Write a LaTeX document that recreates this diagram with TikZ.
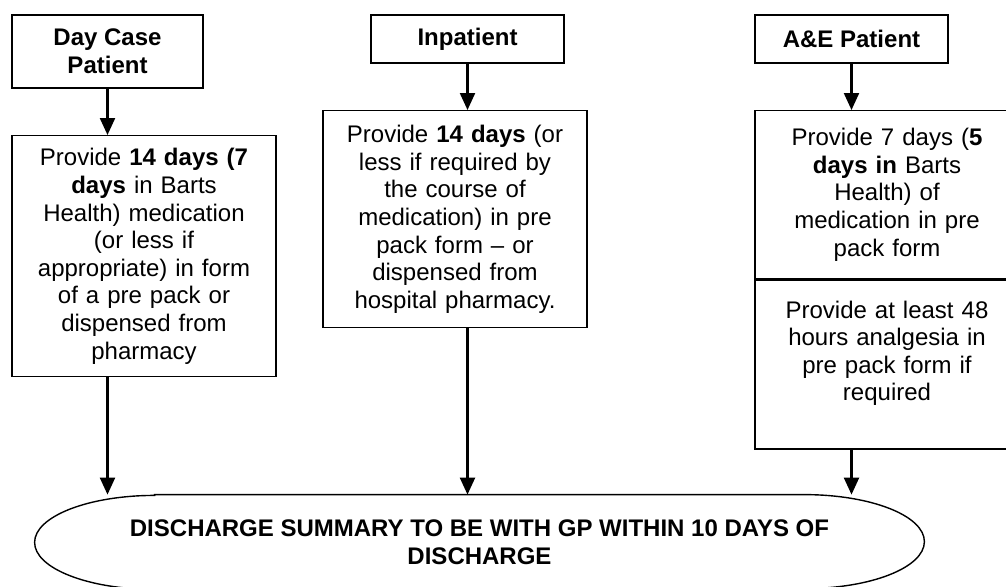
\documentclass[tikz,border=0pt]{standalone}
\usepackage{fontspec}
\setmainfont{Liberation Sans}
\usepackage{tikz}
\usetikzlibrary{calc}
\usetikzlibrary{arrows.meta}

\tikzset{
	boxline/.style = {line width=.7pt},
	headbox/.style = {draw, boxline, align=center, inner sep=0pt, font=\fontsize{12pt}{13.8pt}\selectfont\bfseries},
	infobox/.style = {draw, boxline, align=center, anchor=north, inner sep=0pt, text width=132pt, font=\fontsize{12pt}{13.8pt}\selectfont},
	flowarrow/.style = {-{Triangle[width=7.5pt,length=8.5pt]}, line width=1.1pt},
}

\begin{document}
\begin{tikzpicture}[x=.5pt, y=-.5pt]
		\useasboundingbox (0,0) rectangle (1006,586);
		% patient types
		\node[headbox, minimum width=95.5pt, minimum height=36.5pt] (daycase) at (107.5,51.5) {Day Case\\Patient};
		\node[headbox, minimum width=96.5pt, minimum height=24pt] (inpatient) at (467.5,39) {Inpatient};
		\node[headbox, minimum width=96.5pt, minimum height=24pt] (aepatient) at (851.5,39) {A\&E Patient};
		% what to supply
		\node[infobox, minimum height=120.5pt] (dayinfo) at (144,135) {Provide \textbf{14 days (7}\\\textbf{days} in Barts\\Health) medication\\(or less if\\appropriate) in form\\of a pre pack or\\dispensed from\\pharmacy};
		\node[infobox, minimum height=108.5pt] (inpinfo) at (455,110) {Provide \textbf{14 days} (or\\less if required by\\the course of\\medication) in pre\\pack form – or\\dispensed from\\hospital pharmacy.};
		\node[infobox, minimum height=84pt] (aemeds) at (887,110) {Provide 7 days (\textbf{5}\\\textbf{days in} Barts\\Health) of\\medication in pre\\pack form};
		\node[infobox, minimum height=84.5pt] (aepain) at (aemeds.south) {Provide at least 48\\hours analgesia in\\pre pack form if\\required\\\mbox{}};
		% discharge summary
		\node[align=center, inner sep=0pt, minimum width=444.5pt, minimum height=47pt, font=\fontsize{12pt}{13.8pt}\selectfont\bfseries] (summary) at (479.5,542) {DISCHARGE SUMMARY TO BE WITH GP WITHIN 10 DAYS OF\\DISCHARGE};
		\draw[boxline] ($(summary.north west)+(120,0)$) -- ($(summary.north east)+(-120,0)$)
			arc[start angle=90, end angle=-90, x radius=60pt, y radius=23.5pt]
			-- ($(summary.south west)+(120,0)$)
			arc[start angle=270, end angle=90, x radius=60pt, y radius=23.5pt] -- cycle;

		\draw[flowarrow] (daycase.south) -- (daycase.south |- dayinfo.north);
		\draw[flowarrow] (inpatient.south) -- (inpatient.south |- inpinfo.north);
		\draw[flowarrow] (aepatient.south) -- (aepatient.south |- aemeds.north);
		\draw[flowarrow] (daycase.south |- dayinfo.south) -- (daycase.south |- summary.north);
		\draw[flowarrow] (inpatient.south |- inpinfo.south) -- (inpatient.south |- summary.north);
		\draw[flowarrow] (aepatient.south |- aepain.south) -- (aepatient.south |- summary.north);
	\end{tikzpicture}
\end{document}
